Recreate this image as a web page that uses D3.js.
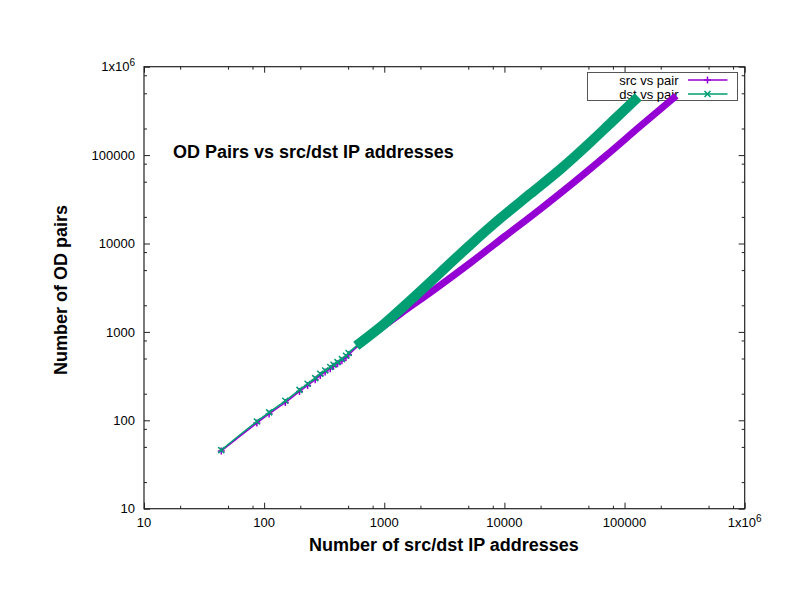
<!DOCTYPE html>
<html>
<head>
<meta charset="utf-8">
<script src="https://cdn.jsdelivr.net/npm/d3@7"></script>
<style>
  body { margin: 0; background: #fff; }
  text { font-family: "Liberation Sans", Arial, sans-serif; }
</style>
</head>
<body>
<div id="myChart"></div>
<script>
// values
const srcX = [44, 87, 110, 150, 197, 230, 266, 293, 322, 355, 378, 408, 444, 480, 504,
  764, 1359, 2661, 5210, 10200, 19950, 39050, 69450, 135900, 256000];
const srcY = [45, 93, 118, 159, 212, 248, 288, 322, 351, 384, 408, 437, 472, 515, 550,
  900, 1600, 3070, 6040, 12190, 24600, 51000, 97700, 213800, 442600];
const dstX = [44, 87, 110, 150, 197, 230, 266, 293, 322, 355, 378, 408, 444, 480, 504,
  631, 1000, 1648, 2929, 5210, 9260, 16480, 29300, 52100, 79400, 121200];
const dstY = [46, 97, 123, 166, 221, 259, 300, 336, 366, 400, 425, 455, 492, 537, 576,
  754, 1234, 2270, 4690, 9700, 19280, 36560, 69350, 140200, 241500, 416000];

const seriesNames = ["src vs pair", "dst vs pair"];
const majorTicks = [10, 100, 1000, 10000, 100000, 1000000];
const tickLabels = ["10", "100", "1000", "10000", "100000", "1x10^6"];
const minorSteps = [2, 5, 8];
// beyond this x the points are so dense they merge into a solid band
const denseFrom = 600;

const margin = { top: 66.7, right: 47.3, bottom: 103.3, left: 144 };
const W = 792, H = 612;
const width = W - margin.left - margin.right;
const height = H - margin.top - margin.bottom;

const xScale = d3.scaleLog().domain([10, 1e6]).range([0, width]);
const yScale = d3.scaleLog().domain([10, 1e6]).range([height, 0]);

const minorTicks = [];
majorTicks.slice(0, -1).forEach((d) => minorSteps.forEach((m) => minorTicks.push(d * m)));

const svg = d3.select("#myChart").append("svg")
  .attr("width", W).attr("height", H);
const g = svg.append("g")
  .attr("transform", `translate(${margin.left}, ${margin.top})`);

// ticks (inward, mirrored on all four sides)
function tickAxis(axis, values, size, tr) {
  const a = g.append("g").attr("transform", tr)
    .call(axis.tickValues(values).tickSize(-size).tickSizeOuter(0).tickFormat(""));
  a.select(".domain").remove();
  a.selectAll(".tick line").attr("stroke", "#222").attr("stroke-width", 1);
}
tickAxis(d3.axisBottom(xScale), majorTicks, 6, `translate(0, ${height})`);
tickAxis(d3.axisBottom(xScale), minorTicks, 3, `translate(0, ${height})`);
tickAxis(d3.axisTop(xScale), majorTicks, 6, "translate(0, 0)");
tickAxis(d3.axisTop(xScale), minorTicks, 3, "translate(0, 0)");
tickAxis(d3.axisLeft(yScale), majorTicks, 6, "translate(0, 0)");
tickAxis(d3.axisLeft(yScale), minorTicks, 3, "translate(0, 0)");
tickAxis(d3.axisRight(yScale), majorTicks, 6, `translate(${width}, 0)`);
tickAxis(d3.axisRight(yScale), minorTicks, 3, `translate(${width}, 0)`);

function writeLabel(sel, label) {
  const parts = label.split("^");
  sel.text(parts[0]);
  if (parts[1]) {
    sel.append("tspan").attr("dy", "-0.55em").style("font-size", "10px").text(parts[1]);
  }
}

// tick labels
majorTicks.forEach((d, i) => {
  g.append("text")
    .attr("x", xScale(d))
    .attr("y", height + 18.5)
    .attr("text-anchor", "middle")
    .style("font-size", "13px")
    .call(writeLabel, tickLabels[i]);
  g.append("text")
    .attr("x", -9)
    .attr("y", yScale(d))
    .attr("dy", "0.36em")
    .attr("text-anchor", "end")
    .style("font-size", "13px")
    .call(writeLabel, tickLabels[i]);
});

// legend (drawn under the data, as in the original)
const legend = g.append("g").attr("transform", "translate(443.5, 5.8)");
legend.append("rect")
  .attr("width", 150).attr("height", 28)
  .attr("fill", "#fff").attr("stroke", "#555").attr("stroke-width", 1);

const series = [
  { name: seriesNames[0], xs: srcX, ys: srcY, color: "#9400d3", band: 7,
    marker: "M-3.5,0H3.5M0,-3.5V3.5" },
  { name: seriesNames[1], xs: dstX, ys: dstY, color: "#009e73", band: 10,
    marker: "M-3,-3L3,3M-3,3L3,-3" },
];

series.forEach((s, i) => {
  const row = legend.append("g").attr("transform", `translate(0, ${7.5 + i * 14})`);
  row.append("text")
    .attr("x", 91).attr("y", 0).attr("dy", "0.36em")
    .attr("text-anchor", "end")
    .style("font-size", "13px")
    .text(s.name);
  row.append("line")
    .attr("x1", 100.5).attr("x2", 140).attr("y1", 0).attr("y2", 0)
    .attr("stroke", s.color).attr("stroke-width", 1.5);
  row.append("path")
    .attr("transform", "translate(120, 0)")
    .attr("d", s.marker)
    .attr("stroke", s.color).attr("stroke-width", 1.5).attr("fill", "none");
});

// data
const line = d3.line()
  .x((d) => xScale(d[0])).y((d) => yScale(d[1]))
  .curve(d3.curveMonotoneX);
series.forEach((s) => {
  const pts = s.xs.map((x, i) => [x, s.ys[i]]);
  const dense = pts.filter((d) => d[0] >= denseFrom);
  g.append("path")
    .datum(pts)
    .attr("d", line)
    .attr("fill", "none").attr("stroke", s.color).attr("stroke-width", 1.5);
  g.selectAll(null)
    .data(pts.filter((d) => d[0] < denseFrom))
    .enter()
    .append("path")
    .attr("transform", (d) => `translate(${xScale(d[0])}, ${yScale(d[1])})`)
    .attr("d", s.marker)
    .attr("fill", "none").attr("stroke", s.color).attr("stroke-width", 1.5);
  g.append("path")
    .datum(dense)
    .attr("d", line)
    .attr("fill", "none").attr("stroke", s.color)
    .attr("stroke-width", s.band).attr("stroke-linecap", "square");
});

// border
g.append("rect")
  .attr("width", width).attr("height", height)
  .attr("fill", "none").attr("stroke", "#222").attr("stroke-width", 1.2);

// titles
g.append("text")
  .attr("x", 29).attr("y", 91.5)
  .style("font-size", "18px").style("font-weight", "bold")
  .text("OD Pairs vs src/dst IP addresses");

svg.append("text")
  .attr("x", 444).attr("y", 551)
  .attr("text-anchor", "middle")
  .style("font-size", "18px").style("font-weight", "bold")
  .text("Number of src/dst IP addresses");

svg.append("text")
  .attr("transform", "translate(67, 290) rotate(-90)")
  .attr("text-anchor", "middle")
  .style("font-size", "18px").style("font-weight", "bold")
  .text("Number of OD pairs");
</script>
</body>
</html>
